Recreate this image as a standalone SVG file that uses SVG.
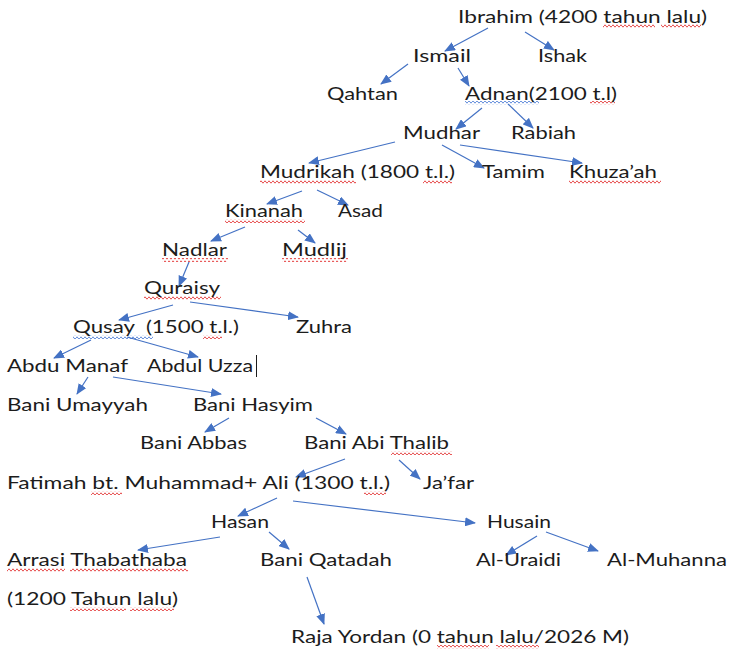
<svg xmlns="http://www.w3.org/2000/svg" width="729" height="649" viewBox="0 0 729 649">
<style>
text{font-family:Lato,"Open Sans","Liberation Sans",sans-serif;font-size:18px;fill:#1c1c1c;white-space:pre}
.c line{stroke:#4472C4;stroke-width:1.2;marker-end:url(#ah)}
</style>
<defs>
<marker id="ah" markerUnits="userSpaceOnUse" markerWidth="11" markerHeight="9" refX="10" refY="4.5" orient="auto">
<path d="M0,0 L11,4.5 L0,9 z" fill="#4472C4"/>
</marker>
<pattern id="wr" patternUnits="userSpaceOnUse" width="4" height="4">
<path d="M0,2 L1,0.8 L3,3.2 L4,2" fill="none" stroke="#e02020" stroke-width="0.8"/>
</pattern>
<pattern id="wb" patternUnits="userSpaceOnUse" width="4" height="4">
<path d="M0,2 L1,0.8 L3,3.2 L4,2" fill="none" stroke="#3a6fd0" stroke-width="0.8"/>
</pattern>
</defs>
<rect width="729" height="649" fill="#ffffff"/>
<g class="c" id="connectors">
<line x1="488" y1="28" x2="445" y2="51"/>
<line x1="525" y1="32" x2="554" y2="50"/>
<line x1="408" y1="64" x2="381" y2="84"/>
<line x1="458" y1="68" x2="469" y2="86"/>
<line x1="482" y1="108" x2="456" y2="129"/>
<line x1="508" y1="104" x2="533" y2="128"/>
<line x1="395" y1="142" x2="309" y2="163"/>
<line x1="442" y1="145" x2="484" y2="168"/>
<line x1="460" y1="145" x2="582" y2="163"/>
<line x1="302" y1="191" x2="267" y2="204"/>
<line x1="317" y1="190" x2="348" y2="205"/>
<line x1="245" y1="227" x2="211" y2="241"/>
<line x1="298" y1="230" x2="315" y2="243"/>
<line x1="189" y1="262" x2="179" y2="286"/>
<line x1="173" y1="305" x2="119" y2="320"/>
<line x1="190" y1="302" x2="298" y2="317"/>
<line x1="91" y1="340" x2="54" y2="358"/>
<line x1="127" y1="337" x2="198" y2="357"/>
<line x1="88" y1="377" x2="77" y2="394"/>
<line x1="113" y1="377" x2="221" y2="394"/>
<line x1="229" y1="418" x2="205" y2="432"/>
<line x1="316" y1="418" x2="346" y2="434"/>
<line x1="345" y1="459" x2="296" y2="477"/>
<line x1="399" y1="460" x2="420" y2="479"/>
<line x1="277" y1="498" x2="238" y2="516"/>
<line x1="293" y1="501" x2="475" y2="523"/>
<line x1="220" y1="537" x2="138" y2="550"/>
<line x1="269" y1="532" x2="289" y2="549"/>
<line x1="307" y1="577" x2="324" y2="624"/>
<line x1="537" y1="536" x2="506" y2="555"/>
<line x1="546" y1="532" x2="598" y2="551"/>
</g>
<g id="squiggles">
<rect x="603" y="24" width="52" height="4" fill="url(#wr)"/>
<rect x="661" y="24" width="40" height="4" fill="url(#wr)"/>
<rect x="465" y="101" width="74" height="4" fill="url(#wb)"/>
<rect x="590" y="101" width="25" height="4" fill="url(#wr)"/>
<rect x="260" y="180" width="96" height="4" fill="url(#wr)"/>
<rect x="423" y="180" width="29" height="4" fill="url(#wr)"/>
<rect x="569" y="180" width="92" height="4" fill="url(#wr)"/>
<rect x="225" y="219" width="80" height="4" fill="url(#wr)"/>
<rect x="162" y="258" width="66" height="4" fill="url(#wr)"/>
<rect x="282" y="258" width="66" height="4" fill="url(#wr)"/>
<rect x="144" y="296" width="77" height="4" fill="url(#wr)"/>
<rect x="73" y="335" width="80" height="4" fill="url(#wb)"/>
<rect x="203" y="335" width="19" height="4" fill="url(#wr)"/>
<rect x="391" y="451" width="61" height="4" fill="url(#wr)"/>
<rect x="91" y="491" width="31" height="4" fill="url(#wr)"/>
<rect x="364" y="491" width="22" height="4" fill="url(#wr)"/>
<rect x="7" y="568" width="58" height="4" fill="url(#wr)"/>
<rect x="70" y="568" width="118" height="4" fill="url(#wr)"/>
<rect x="70" y="607" width="56" height="4" fill="url(#wr)"/>
<rect x="130" y="607" width="44" height="4" fill="url(#wr)"/>
<rect x="437" y="645" width="52" height="4" fill="url(#wr)"/>
<rect x="496" y="645" width="43" height="4" fill="url(#wr)"/>
</g>
<g id="n-ibrahim"><text x="458" y="23" textLength="249" lengthAdjust="spacingAndGlyphs">Ibrahim (4200 tahun lalu)</text></g>
<g id="n-ismail"><text x="413" y="62" textLength="58" lengthAdjust="spacingAndGlyphs">Ismail</text></g>
<g id="n-ishak"><text x="538" y="62" textLength="49" lengthAdjust="spacingAndGlyphs">Ishak</text></g>
<g id="n-qahtan"><text x="327" y="100" textLength="71" lengthAdjust="spacingAndGlyphs">Qahtan</text></g>
<g id="n-adnan"><text x="465" y="100" textLength="152" lengthAdjust="spacingAndGlyphs">Adnan(2100 t.l)</text></g>
<g id="n-mudhar"><text x="403" y="139" textLength="77" lengthAdjust="spacingAndGlyphs">Mudhar</text></g>
<g id="n-rabiah"><text x="511" y="139" textLength="65" lengthAdjust="spacingAndGlyphs">Rabiah</text></g>
<g id="n-mudrikah"><text x="260" y="178" textLength="195" lengthAdjust="spacingAndGlyphs">Mudrikah (1800 t.l.)</text></g>
<g id="n-tamim"><text x="482" y="178" textLength="63" lengthAdjust="spacingAndGlyphs">Tamim</text></g>
<g id="n-khuzaah"><text x="569" y="178" textLength="88" lengthAdjust="spacingAndGlyphs">Khuza’ah</text></g>
<g id="n-kinanah"><text x="225" y="217" textLength="78" lengthAdjust="spacingAndGlyphs">Kinanah</text></g>
<g id="n-asad"><text x="338" y="217" textLength="45" lengthAdjust="spacingAndGlyphs">Asad</text></g>
<g id="n-nadlar"><text x="162" y="256" textLength="65" lengthAdjust="spacingAndGlyphs">Nadlar</text></g>
<g id="n-mudlij"><text x="282" y="256" textLength="65" lengthAdjust="spacingAndGlyphs">Mudlij</text></g>
<g id="n-quraisy"><text x="144" y="294" textLength="76" lengthAdjust="spacingAndGlyphs">Quraisy</text></g>
<g id="n-qusay"><text x="73" y="333" textLength="166" lengthAdjust="spacingAndGlyphs">Qusay  (1500 t.l.)</text></g>
<g id="n-zuhra"><text x="296" y="333" textLength="56" lengthAdjust="spacingAndGlyphs">Zuhra</text></g>
<g id="n-abdumanaf"><text x="7" y="372" textLength="121" lengthAdjust="spacingAndGlyphs">Abdu Manaf</text></g>
<g id="n-abduluzza"><text x="147" y="372" textLength="106" lengthAdjust="spacingAndGlyphs">Abdul Uzza</text><line x1="256.5" y1="355" x2="256.5" y2="377" stroke="#1c1c1c" stroke-width="1"/></g>
<g id="n-baniumayyah"><text x="7" y="411" textLength="141" lengthAdjust="spacingAndGlyphs">Bani Umayyah</text></g>
<g id="n-banihasyim"><text x="193" y="411" textLength="120" lengthAdjust="spacingAndGlyphs">Bani Hasyim</text></g>
<g id="n-baniabbas"><text x="140" y="449" textLength="107" lengthAdjust="spacingAndGlyphs">Bani Abbas</text></g>
<g id="n-baniabithalib"><text x="304" y="449" textLength="145" lengthAdjust="spacingAndGlyphs">Bani Abi Thalib</text></g>
<g id="n-fatimah"><text x="7" y="489" textLength="383" lengthAdjust="spacingAndGlyphs">Fatimah bt. Muhammad+ Ali (1300 t.l.)</text></g>
<g id="n-jafar"><text x="423" y="489" textLength="51" lengthAdjust="spacingAndGlyphs">Ja’far</text></g>
<g id="n-hasan"><text x="211" y="528" textLength="58" lengthAdjust="spacingAndGlyphs">Hasan</text></g>
<g id="n-husain"><text x="487" y="528" textLength="64" lengthAdjust="spacingAndGlyphs">Husain</text></g>
<g id="n-arrasi"><text x="7" y="566" textLength="180" lengthAdjust="spacingAndGlyphs">Arrasi Thabathaba</text></g>
<g id="n-baniqatadah"><text x="260" y="566" textLength="132" lengthAdjust="spacingAndGlyphs">Bani Qatadah</text></g>
<g id="n-aluraidi"><text x="476" y="566" textLength="85" lengthAdjust="spacingAndGlyphs">Al-Uraidi</text></g>
<g id="n-almuhanna"><text x="607" y="566" textLength="120" lengthAdjust="spacingAndGlyphs">Al-Muhanna</text></g>
<g id="n-arrasi-date"><text x="7" y="605" textLength="171" lengthAdjust="spacingAndGlyphs">(1200 Tahun lalu)</text></g>
<g id="n-rajayordan"><text x="291" y="643" textLength="338" lengthAdjust="spacingAndGlyphs">Raja Yordan (0 tahun lalu/2026 M)</text></g>
</svg>
